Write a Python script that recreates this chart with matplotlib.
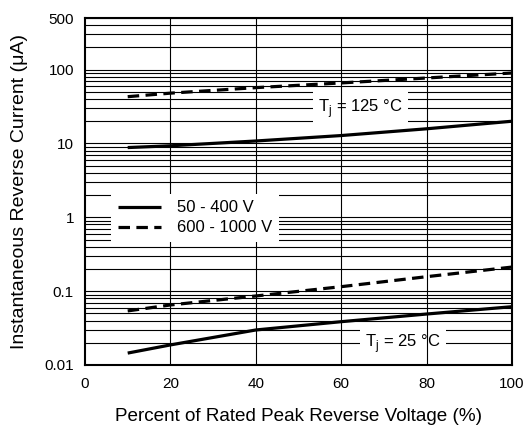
import matplotlib
matplotlib.use("Agg")
import matplotlib.pyplot as plt
from matplotlib.ticker import FixedLocator, LogLocator, NullFormatter, NullLocator

plt.rcParams["font.family"] = ["Liberation Sans", "DejaVu Sans"]
plt.rcParams["mathtext.fontset"] = "custom"
plt.rcParams["mathtext.rm"] = "Liberation Sans"

# percent of rated peak reverse voltage
pct = [10, 20, 40, 60, 80, 100]

# reverse current (uA)
i_125_low = [8.8, 9.3, 10.8, 12.8, 15.8, 20.0]     # 50 - 400 V, Tj = 125 C
i_125_high = [43, 48, 57, 66, 77, 90]              # 600 - 1000 V, Tj = 125 C
i_25_low = [0.0145, 0.0187, 0.0298, 0.0386, 0.049, 0.0616]
i_25_high = [0.054, 0.065, 0.086, 0.115, 0.157, 0.212]

x_ticks = [0, 20, 40, 60, 80, 100]
y_ticks = [0.01, 0.1, 1, 10, 100, 500]
y_labels = ["0.01", "0.1", "1", "10", "100", "500"]

fig = plt.figure(figsize=(5.27, 4.30), dpi=100)
ax = fig.add_axes([85 / 527, 65 / 430, 427 / 527, 347 / 430])
ax.set_yscale("log")
ax.set_xlim(0, 100)
ax.set_ylim(0.01, 500)

# horizontal grid (major + minor decades)
ax.yaxis.set_major_locator(FixedLocator(y_ticks))
ax.yaxis.set_minor_locator(LogLocator(base=10, subs=range(2, 10)))
ax.yaxis.set_minor_formatter(NullFormatter())
ax.set_yticklabels(y_labels)
ax.set_xticks(x_ticks)
ax.xaxis.set_minor_locator(NullLocator())
ax.set_axisbelow(True)
ax.grid(axis="y", which="both", color="black", lw=0.8)

# vertical grid drawn over the label boxes
for xv in x_ticks[1:-1]:
    ax.axvline(xv, color="black", lw=0.8, zorder=1.5)

ax.tick_params(which="both", length=0, labelsize=11)
ax.tick_params(axis="x", pad=9)
ax.tick_params(axis="y", pad=8)
for s in ax.spines.values():
    s.set_linewidth(1.5)

dash = (3.6, 2.0)
ax.plot(pct, i_125_low, color="black", lw=2.3, solid_capstyle="butt", zorder=2, label="50 - 400 V")
ax.plot(pct, i_125_high, color="black", lw=2.3, ls=(0, dash), zorder=2, label="600 - 1000 V")
ax.plot(pct, i_25_low, color="black", lw=2.3, solid_capstyle="butt", zorder=2)
ax.plot(pct, i_25_high, color="black", lw=2.3, ls=(0, dash), zorder=2)

box = dict(facecolor="white", edgecolor="none", pad=4)
ax.text(64.5, 30, r"T$_\mathregular{j}$ = 125 °C", fontsize=12, ha="center", va="center",
        bbox=box, zorder=1)
ax.text(74.5, 0.0195, r"T$_\mathregular{j}$ = 25 °C", fontsize=12, ha="center", va="center",
        bbox=box, zorder=1)

leg = ax.legend(loc="lower left", bbox_to_anchor=(0.061, 0.354), fontsize=12,
                frameon=True, fancybox=False, framealpha=1, edgecolor="none",
                handlelength=2.6, handletextpad=0.95, labelspacing=0.3,
                borderpad=0.4, borderaxespad=0)
leg.set_zorder(5)

ax.set_xlabel("Percent of Rated Peak Reverse Voltage (%)", fontsize=13.6, labelpad=12)
ax.set_ylabel("Instantaneous Reverse Current (μA)", fontsize=14, labelpad=12)

fig.savefig("out.png", dpi=100)
